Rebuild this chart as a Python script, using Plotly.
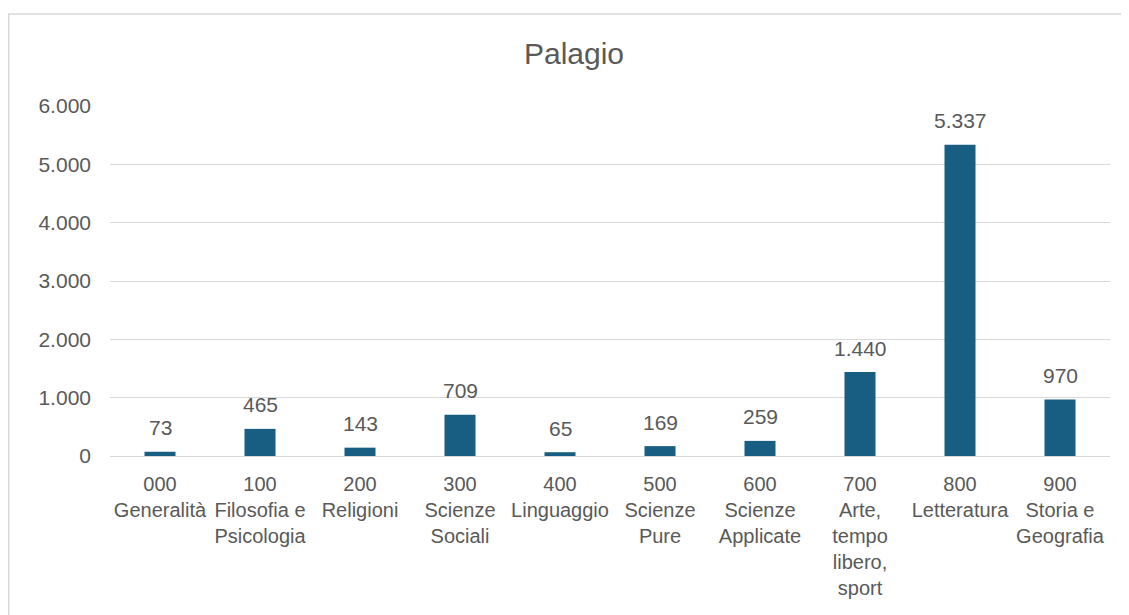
import plotly.graph_objects as go

codes = ["000", "100", "200", "300", "400", "500", "600", "700", "800", "900"]
names = ["Generalità", "Filosofia e<br>Psicologia", "Religioni", "Scienze<br>Sociali",
         "Linguaggio", "Scienze<br>Pure", "Scienze<br>Applicate", "Arte,<br>tempo<br>libero,<br>sport",
         "Letteratura", "Storia e<br>Geografia"]
values = [73, 465, 143, 709, 65, 169, 259, 1440, 5337, 970]
tick_vals = [0, 1000, 2000, 3000, 4000, 5000, 6000]
tick_text = ["0", "1.000", "2.000", "3.000", "4.000", "5.000", "6.000"]

def fmt(v):
    return f"{v:,}".replace(",", ".")

labels = [f"{c}<br>{n}" for c, n in zip(codes, names)]

FONT = "Liberation Sans, Arial, sans-serif"
GREY = "#595959"

# page has an 8px body margin; figure is placed at (8, 8)
W, H = 1121, 607
L, R, T, B = 102, 19, 98, 159
plot_h = H - T - B

fig = go.Figure(go.Bar(
    x=labels, y=values,
    marker=dict(color="#175E82", line=dict(width=0)),
    hoverinfo="x+y",
))

annotations = [dict(x=lab, y=v, xref="x", yref="y", text=fmt(v), showarrow=False,
                    yanchor="middle", yshift=24,
                    font=dict(family=FONT, size=21, color=GREY))
               for lab, v in zip(labels, values)]

fig.update_layout(
    width=W, height=H,
    paper_bgcolor="white", plot_bgcolor="white",
    margin=dict(l=L, r=R, t=T, b=B),
    bargap=0.69,
    showlegend=False,
    title=dict(text="Palagio", x=(574 - 8) / W, xanchor="center",
               y=1 - (53 - 8) / H, yanchor="middle",
               font=dict(family=FONT, size=30, color=GREY)),
    font=dict(family=FONT, color=GREY),
    xaxis=dict(showgrid=False, showline=False, zeroline=False, ticks="",
               tickfont=dict(family=FONT, size=20, color=GREY), tickangle=0,
               ticklabelstandoff=14),
    yaxis=dict(range=[0, 6000], tickvals=tick_vals, ticktext=tick_text,
               showgrid=True, gridcolor="#D9D9D9", gridwidth=1.3,
               zeroline=True, zerolinecolor="#D9D9D9", zerolinewidth=1.3,
               showline=False, ticks="", ticklabelstandoff=18,
               tickfont=dict(family=FONT, size=21, color=GREY)),
    annotations=annotations,
    shapes=[dict(type="rect", xref="paper", yref="paper",
                 x0=(0.75 - L) / 1000, x1=(W + 10 - L) / 1000,
                 y0=-(H + 20 - (T + plot_h)) / plot_h, y1=(T + plot_h - 6) / plot_h,
                 line=dict(color="#D9D9D9", width=1.5), fillcolor="rgba(0,0,0,0)", layer="below")],
)

fig.write_html("out.html")
